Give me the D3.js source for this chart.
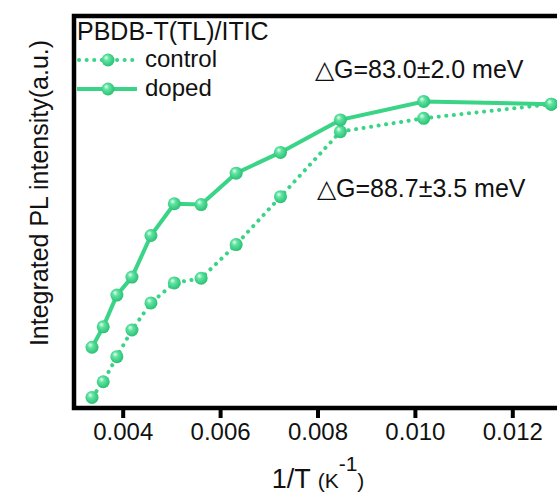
<!DOCTYPE html>
<html>
<head>
<meta charset="utf-8">
<script src="https://cdn.jsdelivr.net/npm/d3@7"></script>
<style>
  html, body { margin: 0; padding: 0; background: #fff; overflow: hidden; }
  svg { display: block; font-family: "Liberation Sans", Arial, sans-serif; }
</style>
</head>
<body>
<div id="chart"></div>
<script>
// 1/T values (K^-1)
const invT = [0.00337, 0.00360, 0.00388, 0.00419, 0.00458, 0.00506, 0.00561, 0.00633, 0.00724, 0.00847, 0.01018, 0.01280];
// integrated PL intensity, arbitrary units
const doped   = [0.155, 0.207, 0.288, 0.334, 0.440, 0.521, 0.519, 0.599, 0.652, 0.735, 0.782, 0.775];
const control = [0.027, 0.067, 0.131, 0.199, 0.268, 0.319, 0.331, 0.417, 0.539, 0.705, 0.739, 0.775];
const xTicks = [0.004, 0.006, 0.008, 0.010, 0.012];

const seriesNames = ['control', 'doped'];
const legendTitle = 'PBDB-T(TL)/ITIC';
const notes = ['\u25B3G=83.0\u00B12.0 meV', '\u25B3G=88.7\u00B13.5 meV'];

const width = 557, height = 496;
const margin = { top: 16, right: -4, bottom: 88, left: 74 };
const green = '#3ad486';

const x = d3.scaleLinear()
  .domain([0.003, 0.013])
  .range([margin.left, width - margin.right]);
const y = d3.scaleLinear()
  .domain([0, 1])
  .range([height - margin.bottom, margin.top]);

const svg = d3.select('#chart')
  .append('svg')
  .attr('width', width)
  .attr('height', height);

// sphere-like marker fill
const grad = svg.append('defs').append('radialGradient')
  .attr('id', 'ball')
  .attr('cx', '45%').attr('cy', '45%').attr('r', '60%')
  .attr('fx', '35%').attr('fy', '30%');
grad.append('stop').attr('offset', '0%').attr('stop-color', '#e6fff0');
grad.append('stop').attr('offset', '35%').attr('stop-color', '#5fe3a2');
grad.append('stop').attr('offset', '100%').attr('stop-color', '#24bd6e');

const line = d3.line()
  .x(d => x(d[0]))
  .y(d => y(d[1]));

const dopedPts = invT.map((t, i) => [t, doped[i]]);
const controlPts = invT.map((t, i) => [t, control[i]]);

// control: dotted line
svg.append('path')
  .datum(controlPts)
  .attr('d', line)
  .attr('fill', 'none')
  .attr('stroke', green)
  .attr('stroke-width', 4)
  .attr('stroke-linecap', 'round')
  .attr('stroke-dasharray', '0.1 7.5');

// doped: solid line
svg.append('path')
  .datum(dopedPts)
  .attr('d', line)
  .attr('fill', 'none')
  .attr('stroke', green)
  .attr('stroke-width', 4);

svg.append('g')
  .selectAll('circle')
  .data(controlPts.concat(dopedPts))
  .join('circle')
  .attr('cx', d => x(d[0]))
  .attr('cy', d => y(d[1]))
  .attr('r', 6.5)
  .attr('fill', 'url(#ball)');

// frame
const x0 = margin.left, x1 = width - margin.right;
const y0 = margin.top, y1 = height - margin.bottom;
svg.append('path')
  .attr('d', `M${x1},${y0}H${x0}V${y1}H${x1}`)
  .attr('fill', 'none')
  .attr('stroke', '#000')
  .attr('stroke-width', 4.5);

// x axis
svg.append('g')
  .attr('transform', `translate(0,${y1})`)
  .call(d3.axisBottom(x).tickValues(xTicks).tickFormat(d3.format('.3f')).tickSizeOuter(0).tickSize(10).tickPadding(5))
  .call(g => g.select('.domain').remove())
  .call(g => g.selectAll('.tick line').attr('stroke', '#000').attr('stroke-width', 4))
  .call(g => g.selectAll('.tick text')
    .attr('fill', '#111')
    .attr('font-size', '24px')
    .attr('font-family', '"Liberation Sans", Arial, sans-serif'));

// x axis title
const xt = svg.append('text')
  .attr('x', 318)
  .attr('y', 488)
  .attr('text-anchor', 'middle')
  .attr('fill', '#111');
xt.append('tspan').attr('font-size', '27px').text('1/T ');
xt.append('tspan').attr('font-size', '21px').text('(K');
xt.append('tspan').attr('font-size', '21px').attr('dy', -17).text('-1');
xt.append('tspan').attr('font-size', '21px').attr('dy', 17).text(')');

// y axis title
svg.append('text')
  .attr('transform', 'translate(48,193) rotate(-90)')
  .attr('text-anchor', 'middle')
  .attr('font-size', '25px')
  .attr('fill', '#111')
  .text('Integrated PL intensity(a.u.)');

// legend
svg.append('text')
  .attr('x', 77).attr('y', 40)
  .attr('font-size', '25px')
  .attr('fill', '#111')
  .text(legendTitle);

const legendY = [60, 89];
seriesNames.forEach((name, i) => {
  const g = svg.append('g');
  g.append('line')
    .attr('x1', i === 0 ? 79 : 77).attr('x2', i === 0 ? 133 : 137)
    .attr('y1', legendY[i]).attr('y2', legendY[i])
    .attr('stroke', green)
    .attr('stroke-width', 4)
    .attr('stroke-linecap', i === 0 ? 'round' : 'butt')
    .attr('stroke-dasharray', i === 0 ? '0.1 7.5' : null);
  g.append('circle')
    .attr('cx', 108).attr('cy', legendY[i])
    .attr('r', 6.5)
    .attr('fill', 'url(#ball)');
  g.append('text')
    .attr('x', 145).attr('y', legendY[i] + 7)
    .attr('font-size', '24px')
    .attr('fill', '#111')
    .text(name);
});

// activation energy notes
svg.append('text')
  .attr('x', 315).attr('y', 78)
  .attr('font-size', '25px')
  .attr('fill', '#111')
  .text(notes[0]);
svg.append('text')
  .attr('x', 317).attr('y', 197)
  .attr('font-size', '25px')
  .attr('fill', '#111')
  .text(notes[1]);
</script>
</body>
</html>
